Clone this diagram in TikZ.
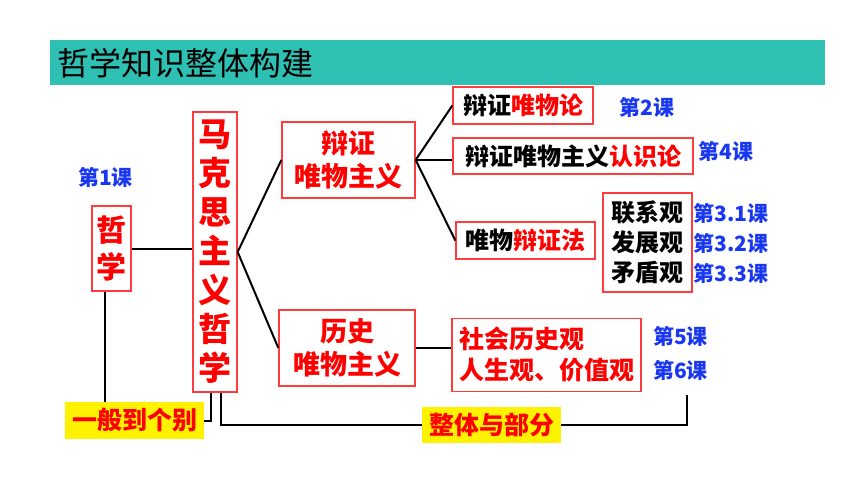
\documentclass[tikz,border=0pt]{standalone}
\usepackage{fontspec}
\setmainfont{Noto Sans CJK SC}[BoldFont={Noto Sans CJK SC Black}]
\usetikzlibrary{positioning}
\definecolor{barteal}{RGB}{46,192,179}
\definecolor{lessonblue}{RGB}{25,55,240}
\definecolor{boxred}{RGB}{255,60,60}

\begin{document}
\begin{tikzpicture}[
  x=1pt, y=1pt,
  redbox/.style={draw=boxred, line width=1.3pt, align=center, inner sep=0pt, text=red, font=\bfseries\fontsize{27}{33}\selectfont},
  blackbox/.style={draw=boxred, line width=1.3pt, align=center, inner sep=0pt, text=black, font=\bfseries\fontsize{24}{30}\selectfont},
  yellowbox/.style={fill=yellow, inner sep=0pt, text=red, font=\bfseries\fontsize{25}{25}\selectfont},
  lesson/.style={inner sep=0pt, text=lessonblue, font=\bfseries\fontsize{21}{21}\selectfont},
  link/.style={line width=2pt, black}
]
\useasboundingbox (0,0) rectangle (860,-484);

% Title
\node[fill=barteal, anchor=north west, inner sep=0pt, minimum width=775pt, minimum height=45pt] (bar) at (50,-40) {};
\node[anchor=west, inner sep=0pt, font=\fontsize{32}{32}\selectfont] (title) at (57,-63) {哲学知识整体构建};

% Main boxes
\node[redbox, font=\bfseries\fontsize{30}{37}\selectfont, minimum width=39pt, minimum height=85pt] (zhe) at (111.5,-248.5) {哲\\学};
\node[redbox, font=\bfseries\fontsize{33}{39}\selectfont, minimum width=44pt, minimum height=280pt] (makesi) at (215,-252) {马\\克\\思\\主\\义\\哲\\学};
\node[redbox, minimum width=133pt, minimum height=76pt] (bianzheng) at (348.5,-160) {辩证\\唯物主义};
\node[redbox, minimum width=136pt, minimum height=76pt] (lishi) at (347,-348) {历史\\唯物主义};

% Dialectical materialism branch
\node[blackbox, minimum width=140pt, minimum height=37pt] (weiwulun) at (523,-105.5) {辩证\textcolor{red}{唯物论}};
\node[blackbox, minimum width=240pt, minimum height=36pt] (renshilun) at (573,-156) {辩证唯物主义\textcolor{red}{认识论}};
\node[blackbox, minimum width=139pt, minimum height=37pt] (bianzhengfa) at (525.5,-240.5) {唯物\textcolor{red}{辩证法}};
\node[blackbox, minimum width=89pt, minimum height=99pt] (guan) at (647.5,-242.5) {联系观\\发展观\\矛盾观};

% Historical materialism branch
\node[redbox, align=left, font=\bfseries\fontsize{25}{31}\selectfont, minimum width=189pt, minimum height=73pt] (shehui) at (546.5,-355) {社会历史观\\人生观、价值观};

% Lessons
\node[lesson] (l1) at (105.5,-177) {第1课};
\node[lesson] (l2) at (647,-107) {第2课};
\node[lesson] (l4) at (726,-151) {第4课};
\node[lesson] (l31) at (731,-213) {第3.1课};
\node[lesson] (l32) at (731,-243) {第3.2课};
\node[lesson] (l33) at (731,-273) {第3.3课};
\node[lesson] (l5) at (680.5,-336) {第5课};
\node[lesson] (l6) at (680.5,-370) {第6课};

% Methods
\node[yellowbox, minimum width=139pt, minimum height=37pt] (yiban) at (134.5,-420.5) {一般到个别};
\node[yellowbox, minimum width=139pt, minimum height=36pt] (zhengti) at (491.5,-425) {整体与部分};
\coordinate (rend) at (687,-395);

% Links
\draw[link] (zhe.east) -- (zhe.east -| makesi.west);
\draw[link] (makesi.east) -- (bianzheng.west);
\draw[link] (makesi.east) -- (lishi.west);
\draw[link] (bianzheng.east) -- (weiwulun.west);
\draw[link] (bianzheng.east) -- (bianzheng.east -| renshilun.west);
\draw[link] (bianzheng.east) -- (bianzhengfa.west);
\draw[link] (lishi.east) -- (lishi.east -| shehui.west);
\draw[link] ([xshift=-7pt]zhe.south) -- ([xshift=-7pt]zhe.south |- yiban.north);
\draw[link] ([xshift=-4pt]makesi.south) |- (yiban.east);
\draw[link] ([xshift=6pt]makesi.south) |- (zhengti.west);
\draw[link] (zhengti.east) -| (rend);

\end{tikzpicture}
\end{document}
